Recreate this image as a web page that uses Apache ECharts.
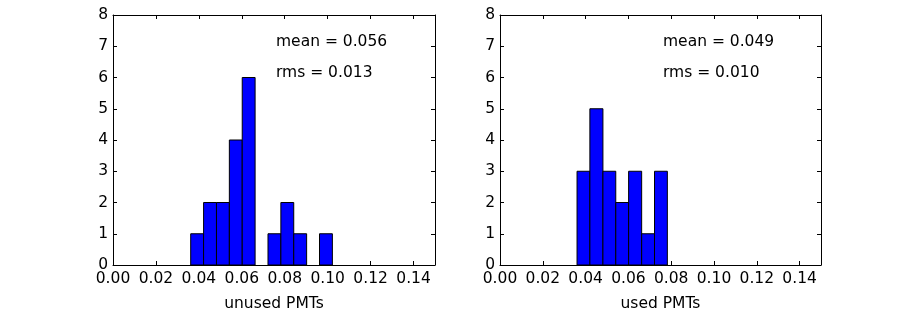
<!DOCTYPE html>
<html>
<head>
    <meta charset="UTF-8">
    <title>PMT histograms</title>
    <script src="https://cdn.jsdelivr.net/npm/echarts@6.0.0/dist/echarts.min.js"></script>
    <style>
        body { margin: 0; padding: 0; background: #fff; }
        #chart { width: 913px; height: 333px; }
    </style>
</head>
<body>
    <div id="chart"></div>
    <script>
        // bin edges and counts
        var unusedEdges = [0.0362, 0.0422, 0.0482, 0.0542, 0.0602, 0.0662, 0.0722, 0.0782, 0.0842, 0.0902, 0.0962, 0.1022];
        var unusedCounts = [1, 2, 2, 4, 6, 0, 1, 2, 1, 0, 1];
        var usedEdges = [0.0360, 0.0420, 0.0481, 0.0541, 0.0601, 0.0662, 0.0722, 0.0782];
        var usedCounts = [3, 5, 3, 2, 3, 1, 3];

        var panelNames = ['unused PMTs', 'used PMTs'];
        var meanTexts = ['mean = 0.056', 'mean = 0.049'];
        var rmsTexts = ['rms = 0.013', 'rms = 0.010'];

        var FONT = 'DejaVu Sans';
        var FS = 15.5;

        function toBins(edges, counts) {
            var out = [];
            for (var i = 0; i < counts.length; i++) {
                out.push([edges[i], edges[i + 1], counts[i]]);
            }
            return out;
        }

        function renderBar(params, api) {
            if (api.value(2) <= 0) return;
            var p0 = api.coord([api.value(0), api.value(2)]);
            var p1 = api.coord([api.value(1), 0]);
            return {
                type: 'rect',
                shape: { x: p0[0], y: p0[1], width: p1[0] - p0[0], height: p1[1] - p0[1] },
                style: { fill: '#0000ff', stroke: '#000', lineWidth: 1 }
            };
        }

        var grids = [
            { left: 113, top: 15, width: 322, height: 250 },
            { left: 500, top: 15, width: 321, height: 250 }
        ];

        var xAxes = [], yAxes = [];
        grids.forEach(function (g, i) {
            // bottom axis with labels
            xAxes.push({
                type: 'value', gridIndex: i, min: 0, max: 0.15, interval: 0.02,
                position: 'bottom',
                name: panelNames[i], nameLocation: 'middle', nameGap: 31,
                nameTextStyle: { color: '#000', fontFamily: FONT, fontSize: FS },
                axisLine: { show: true, onZero: false, lineStyle: { color: '#000', width: 1 } },
                axisTick: { show: true, inside: true, length: 4, lineStyle: { color: '#000' } },
                axisLabel: {
                    color: '#000', fontFamily: FONT, fontSize: FS, margin: 6,
                    showMaxLabel: false,
                    formatter: function (v) { return v.toFixed(2); }
                },
                splitLine: { show: false }
            });
            // top frame
            xAxes.push({
                type: 'value', gridIndex: i, min: 0, max: 0.15, interval: 0.02,
                position: 'top',
                axisLine: { show: true, onZero: false, lineStyle: { color: '#000', width: 1 } },
                axisTick: { show: true, inside: true, length: 4, lineStyle: { color: '#000' } },
                axisLabel: { show: false },
                splitLine: { show: false }
            });
            yAxes.push({
                type: 'value', gridIndex: i, min: 0, max: 8, interval: 1,
                position: 'left',
                axisLine: { show: true, onZero: false, lineStyle: { color: '#000', width: 1 } },
                axisTick: { show: true, inside: true, length: 4, lineStyle: { color: '#000' } },
                axisLabel: { color: '#000', fontFamily: FONT, fontSize: FS, margin: 5 },
                splitLine: { show: false }
            });
            // right frame
            yAxes.push({
                type: 'value', gridIndex: i, min: 0, max: 8, interval: 1,
                position: 'right',
                axisLine: { show: true, onZero: false, lineStyle: { color: '#000', width: 1 } },
                axisTick: { show: true, inside: true, length: 4, lineStyle: { color: '#000' } },
                axisLabel: { show: false },
                splitLine: { show: false }
            });
        });

        var graphics = [];
        grids.forEach(function (g, i) {
            var x = g.left + 163;
            graphics.push({ type: 'text', x: x, y: 42, style: { text: meanTexts[i], fill: '#000', font: FS + 'px "DejaVu Sans"', verticalAlign: 'middle' } });
            graphics.push({ type: 'text', x: x, y: 73, style: { text: rmsTexts[i], fill: '#000', font: FS + 'px "DejaVu Sans"', verticalAlign: 'middle' } });
        });

        var chart = echarts.init(document.getElementById('chart'));
        chart.setOption({
            animation: false,
            backgroundColor: '#fff',
            grid: grids,
            xAxis: xAxes,
            yAxis: yAxes,
            graphic: graphics,
            series: [
                { type: 'custom', xAxisIndex: 0, yAxisIndex: 0, renderItem: renderBar, data: toBins(unusedEdges, unusedCounts) },
                { type: 'custom', xAxisIndex: 2, yAxisIndex: 2, renderItem: renderBar, data: toBins(usedEdges, usedCounts) }
            ]
        });

        window.addEventListener('resize', function () {
            chart.resize();
        });
    </script>
</body>
</html>
